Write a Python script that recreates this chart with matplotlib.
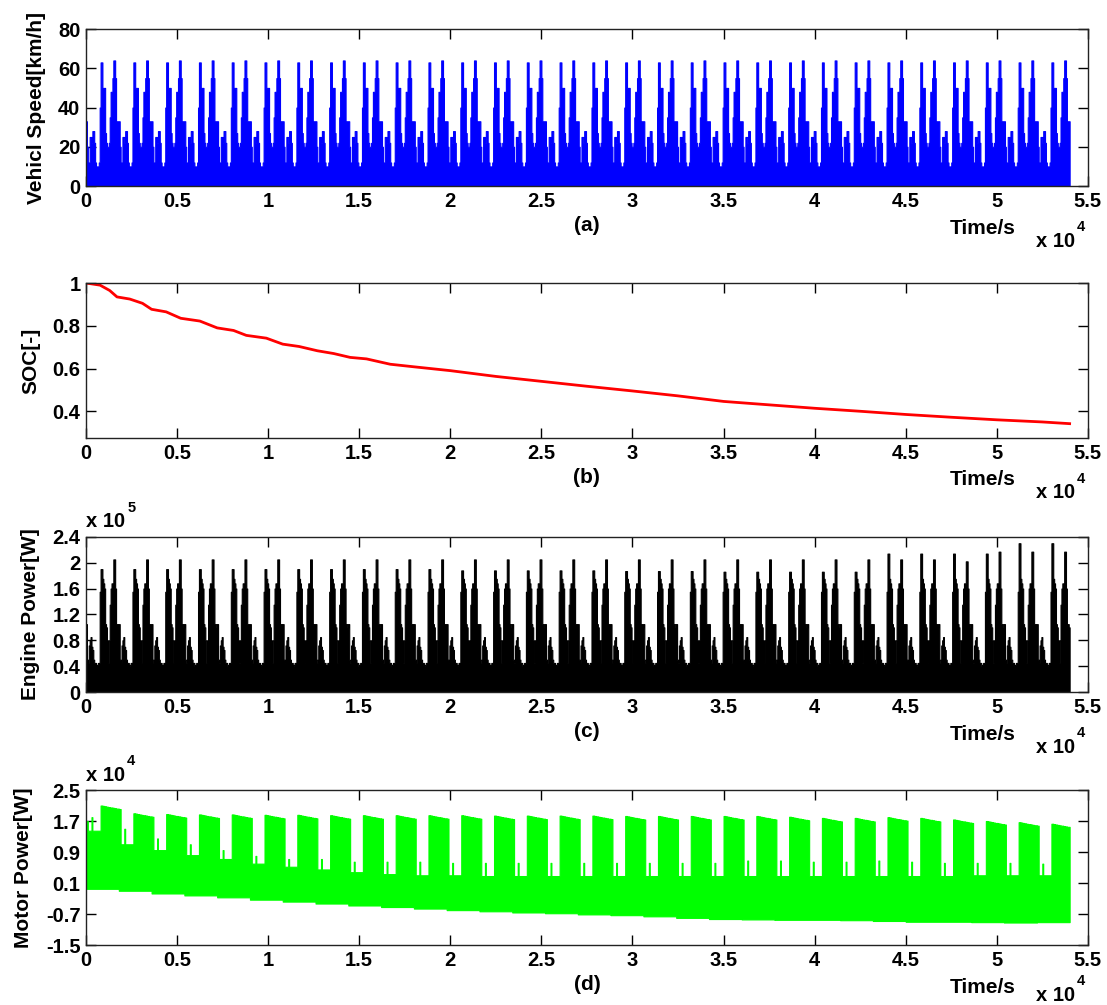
"""Vehicle speed, SOC, engine and motor power over 30 repeated drive cycles."""

import matplotlib
matplotlib.use("Agg")
import matplotlib.pyplot as plt
import numpy as np
from matplotlib.ticker import FuncFormatter

plt.rcParams["font.family"] = ["Liberation Sans", "DejaVu Sans"]
plt.rcParams["font.weight"] = "bold"

DT = 50          # s between envelope samples
N_CYCLES = 30    # 1800 s drive cycle, repeated

# speed envelope over one cycle [km/h], one value per 50 s
speed_cycle = [33, 20, 12, 12, 25, 25, 22, 28, 28, 22, 12, 10, 10, 10, 12, 40,
               63, 63, 50, 50, 50, 27, 22, 20, 20, 22, 35, 48, 48, 55, 64, 64,
               55, 33, 33, 33]

# engine power envelope over one cycle [x 1e5 W]
engine_cycle = [1.05, 0.50, 0.45, 0.72, 0.80, 0.85, 0.70, 0.65, 0.50, 0.45, 0.45,
                0.40, 0.42, 0.45, 0.45, 1.55, 1.90, 1.90, 1.75, 1.68, 1.60, 1.05,
                1.00, 0.80, 0.45, 0.80, 1.35, 1.60, 1.68, 1.68, 2.05, 2.05, 1.60,
                1.05, 1.05, 1.00]
# height of the two main engine peaks in each cycle [x 1e5 W]
engine_peak1 = [1.90, 1.90, 1.90, 1.90, 1.90, 1.90, 1.90, 1.90, 1.90, 1.90,
                1.90, 1.88, 1.88, 1.88, 1.88, 1.88, 1.87, 1.87, 1.87, 1.86,
                1.86, 1.86, 1.86, 1.86, 2.14, 2.14, 2.14, 2.14, 2.30, 2.30]
engine_peak2 = [2.05, 2.05, 2.05, 2.05, 2.05, 2.05, 2.05, 2.05, 2.05, 2.05,
                2.05, 2.05, 2.05, 2.05, 2.05, 2.05, 2.05, 2.05, 2.05, 2.05,
                2.05, 2.05, 2.05, 2.05, 2.05, 2.05, 2.02, 2.17, 2.17, 2.17]

# battery state of charge
soc_time = [0, 770, 1300, 1700, 2400, 3100, 3600, 4400, 5200, 6250, 7200, 8100,
            8800, 9900, 10800, 11700, 12700, 13600, 14500, 15400, 16700, 18000,
            20000, 22500, 25000, 27500, 30000, 32500, 35000, 37500, 40000, 42500,
            45000, 47500, 50000, 52500, 54000]
soc_value = [1.0, 0.99, 0.965, 0.935, 0.925, 0.905, 0.877, 0.865, 0.835, 0.822,
             0.79, 0.778, 0.755, 0.742, 0.714, 0.703, 0.683, 0.67, 0.652, 0.645,
             0.62, 0.608, 0.59, 0.563, 0.54, 0.517, 0.495, 0.472, 0.446, 0.43,
             0.414, 0.40, 0.385, 0.372, 0.36, 0.35, 0.342]

# motor power band per cycle [x 1e4 W]
motor_block_top = [2.10, 1.90, 1.88, 1.87, 1.87, 1.86, 1.86, 1.85, 1.85, 1.85,
                   1.85, 1.85, 1.84, 1.84, 1.84, 1.84, 1.83, 1.83, 1.83, 1.83,
                   1.83, 1.81, 1.78, 1.78, 1.80, 1.78, 1.74, 1.70, 1.67, 1.63]
motor_gap_top = [1.45, 1.10, 0.95, 0.82, 0.72, 0.60, 0.52, 0.45, 0.38, 0.33,
                 0.30, 0.30, 0.28, 0.28, 0.28, 0.28, 0.28, 0.28, 0.28, 0.28,
                 0.28, 0.28, 0.28, 0.28, 0.28, 0.28, 0.28, 0.30, 0.30, 0.30]
motor_gap_spike = [1.80, 1.50, 1.25, 1.10, 0.95, 0.80, 0.72, 0.72, 0.65, 0.65,
                   0.65, 0.62, 0.62, 0.62, 0.62, 0.62, 0.62, 0.62, 0.62, 0.62,
                   0.68, 0.68, 0.65, 0.65, 0.68, 0.65, 0.62, 0.62, 0.62, 0.60]
motor_bottom = [-0.05, -0.10, -0.17, -0.22, -0.27, -0.33, -0.38, -0.43, -0.48, -0.52,
                -0.56, -0.60, -0.63, -0.66, -0.68, -0.71, -0.73, -0.76, -0.80, -0.83,
                -0.84, -0.85, -0.85, -0.86, -0.88, -0.90, -0.90, -0.91, -0.92, -0.91]
# sag of the high-power block from its starting level [x 1e4 W]
motor_block_drop = [0, 0, -0.01, -0.01, -0.02, -0.02, -0.03, -0.03, -0.04, -0.04,
                    -0.05, -0.05, -0.05, -0.06, -0.06, -0.07, -0.07, -0.08, -0.08, -0.08]


def closed(v):
    """Repeat the last sample so step fills reach the end time."""
    v = np.asarray(v, dtype=float).ravel()
    return np.append(v, v[-1])


n_per = len(speed_cycle)
t = np.arange(N_CYCLES * n_per + 1) * DT

speed = closed(np.tile(speed_cycle, N_CYCLES))

engine = np.tile(np.asarray(engine_cycle, float), (N_CYCLES, 1))
engine[:, 16:18] = np.asarray(engine_peak1)[:, None]
engine[:, 30:32] = np.asarray(engine_peak2)[:, None]
engine = closed(engine) * 1e5

m_up = np.empty((N_CYCLES, n_per))
for c in range(N_CYCLES):
    m_up[c, 0:2] = motor_block_top[c - 1] - 0.09 if c else motor_gap_top[0] + 0.25
    m_up[c, 2:16] = motor_gap_top[c]
    m_up[c, 6] = motor_gap_spike[c]
    m_up[c, 16:] = motor_block_top[c] + np.asarray(motor_block_drop)
motor_up = closed(m_up) * 1e4
motor_lo = closed(np.repeat(motor_bottom, n_per)) * 1e4

fig = plt.figure(figsize=(11.07, 10.05), dpi=100)
left, width = 0.0777, 0.905
ax_a = fig.add_axes([left, 0.8149, width, 0.1562])
ax_b = fig.add_axes([left, 0.5642, width, 0.1542])
ax_c = fig.add_axes([left, 0.3114, width, 0.1545])
ax_d = fig.add_axes([left, 0.0597, width, 0.1542])

# a thin edge in the fill colour gives the narrow peaks some body
ax_a.fill_between(t, 0, speed, step="post", color=(0, 0, 1), lw=0.8)
ax_b.plot(soc_time, soc_value, color=(1, 0, 0), lw=2)
ax_c.fill_between(t, 0, engine, step="post", color="black", lw=0.8)
ax_d.fill_between(t, motor_lo, motor_up, step="post", color=(0, 1, 0), lw=0.8)

PX = 0.72  # points per pixel at 100 dpi


def sci(scale):
    return FuncFormatter(lambda v, p: f"{round(v / scale, 3):g}")


def style(ax, letter, ylabel, yticks, ylim, yscale=1.0, exp=None, exp_drop=55):
    ax.set_xlim(0, 55000)
    ax.set_xticks(np.arange(0, 55001, 5000))
    ax.xaxis.set_major_formatter(sci(1e4))
    ax.set_ylim(*ylim)
    ax.set_yticks(yticks)
    ax.yaxis.set_major_formatter(sci(yscale))
    ax.set_axisbelow(True)
    ax.tick_params(direction="in", length=7, width=1, top=True, right=True,
                   labelsize=14.5, pad=4)
    for s in ax.spines.values():
        s.set_linewidth(1)
        s.set_color("#222222")
    ax.set_ylabel(ylabel, fontsize=15, fontweight="bold", labelpad=9)
    ax.set_xlabel(f"({letter})", fontsize=15, fontweight="bold", labelpad=4)
    ax.annotate("Time/s", xy=(0.895, 0), xycoords="axes fraction",
                xytext=(0, -42 * PX), textcoords="offset points",
                ha="center", va="center", fontsize=15, fontweight="bold")
    base = ax.annotate("x 10", xy=(0.948, 0), xycoords="axes fraction",
                       xytext=(0, -exp_drop * PX), textcoords="offset points",
                       ha="left", va="center", fontsize=14.5, fontweight="bold")
    ax.annotate("4", xy=(1, 1), xycoords=base, xytext=(1.5, 3),
                textcoords="offset points", ha="left", va="center",
                fontsize=10.5, fontweight="bold")
    if exp is not None:
        top = ax.annotate("x 10", xy=(0, 1), xycoords="axes fraction",
                          xytext=(0, 15 * PX), textcoords="offset points",
                          ha="left", va="center", fontsize=14.5, fontweight="bold")
        ax.annotate(exp, xy=(1, 1), xycoords=top, xytext=(1.5, 3),
                    textcoords="offset points", ha="left", va="center",
                    fontsize=10.5, fontweight="bold")


style(ax_a, "a", "Vehicl Speed[km/h]", [0, 20, 40, 60, 80], (0, 80))
style(ax_b, "b", "SOC[-]", [0.4, 0.6, 0.8, 1.0], (0.275, 1.0))
style(ax_c, "c", "Engine Power[W]", np.arange(0, 2.41e5, 0.4e5), (0, 2.4e5),
      yscale=1e5, exp="5")
style(ax_d, "d", "Motor Power[W]", np.arange(-1.5e4, 2.51e4, 0.8e4), (-1.5e4, 2.5e4),
      yscale=1e4, exp="4", exp_drop=50)

fig.savefig("out.png", dpi=100)
